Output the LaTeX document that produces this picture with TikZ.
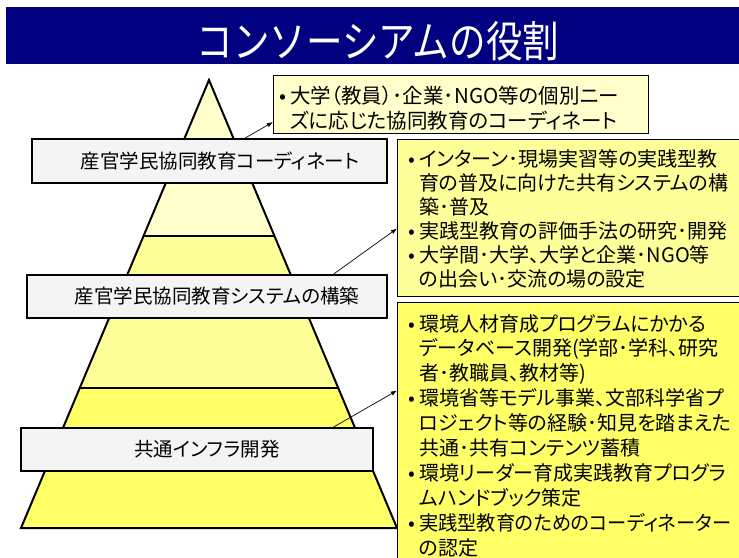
\documentclass[tikz,border=0pt]{standalone}
\usepackage{fontspec}
\usepackage{graphicx}
\setmainfont[RawFeature=+palt]{Noto Sans CJK JP}
\newfontfamily\titlefont[FakeStretch=0.85]{Noto Sans CJK JP}
\usetikzlibrary{calc,arrows.meta}
\definecolor{navybar}{HTML}{000080}
\definecolor{ylight}{HTML}{FFFFCC}
\definecolor{ymid}{HTML}{FFFF99}
\definecolor{ydark}{HTML}{FFFF66}
\definecolor{labgray}{HTML}{F4F4F4}
\newcommand\bul{\makebox[14pt][c]{•}}
\newcommand\ind{\hspace*{14pt}}
\tikzset{
  labelbox/.style={draw=black, line width=2pt, fill=labgray, inner sep=0, minimum height=43pt},
  labeltext/.style={font=\fontsize{19.5}{23}\selectfont, inner sep=0},
  notebox/.style={draw=black, line width=0.9pt, inner sep=0, anchor=north west},
  notetext/.style={align=left, inner sep=0, anchor=north west},
  conn/.style={-{Latex[length=6pt,width=4.5pt]}, line width=0.7pt},
  pyrline/.style={line width=2pt, line join=miter},
}
\begin{document}
\begin{tikzpicture}[x=1pt,y=-1pt]
\useasboundingbox (0,0) rectangle (739,557);
% title bar
\node[fill=navybar, inner sep=0, minimum width=740pt, minimum height=57pt, anchor=north west] (bar) at (6,7) {};
\node[inner sep=0, text=white, font=\titlefont\fontsize{43}{46}\selectfont] (title) at (378,41) {コンソーシアムの役割};
% pyramid
\coordinate (apex) at (209,80);
\coordinate (bl) at (21,528);
\coordinate (br) at (397,528);
\coordinate (l1) at ($(apex)!0.34821!(bl)$);
\coordinate (r1) at ($(apex)!0.34821!(br)$);
\coordinate (l2) at ($(apex)!0.6875!(bl)$);
\coordinate (r2) at ($(apex)!0.6875!(br)$);
\fill[ylight] (apex) -- (l1) -- (r1) -- cycle;
\fill[ymid] (l1) -- (r1) -- (r2) -- (l2) -- cycle;
\fill[ydark] (l2) -- (r2) -- (br) -- (bl) -- cycle;
\draw[pyrline] (apex) -- (bl) -- (br) -- cycle;
\draw[pyrline] (l1) -- (r1);
\draw[pyrline] (l2) -- (r2);
% label boxes
\node[labelbox, minimum width=355pt, minimum height=44pt] (lab1) at (209.5,161) {};
\node[labeltext] (lab1t) at (220,161) {産官学民協同教育コーディネート};
\node[labelbox, minimum width=360pt] (lab2) at (207,296.5) {};
\node[labeltext] (lab2t) at (217,296.5) {産官学民協同教育システムの構築};
\node[labelbox, minimum width=352pt] (lab3) at (197,449.5) {};
\node[labeltext] (lab3t) at (207,449.5) {共通インフラ開発};
% note boxes
\node[notebox, fill=ylight, minimum width=375pt, minimum height=58pt] (boxA) at (273,75) {};
\node[notebox, fill=ymid, minimum width=350pt, minimum height=157pt] (boxB) at (397,139) {};
\node[notebox, fill=ydark, minimum width=350pt, minimum height=265pt] (boxC) at (397,302) {};
\node[notetext, font=\fontsize{20.5}{25}\selectfont] (textA) at (276,86) {\bul 大学（教員）･企業･NGO等の個別ニー\\\ind ズに応じた協同教育のコーディネート};
\node[notetext, font=\fontsize{20}{24}\selectfont] (textB) at (405,149) {\bul インターン･現場実習等の実践型教\\
\ind 育の普及に向けた共有システムの構\\
\ind 築･普及\\
\bul 実践型教育の評価手法の研究･開発\\
\bul 大学間･大学、大学と企業･NGO等\\
\ind の出会い･交流の場の設定};
\node[notetext, font=\fontsize{20}{24.9}\selectfont] (textC) at (405,314) {\bul 環境人材育成プログラムにかかる\\
\ind データベース開発(学部･学科、研究\\
\ind 者･教職員、教材等)\\
\bul 環境省等モデル事業、文部科学省プ\\
\ind ロジェクト等の経験･知見を踏まえた\\
\ind 共通･共有コンテンツ蓄積\\
\bul 環境リーダー育成実践教育プログラ\\
\ind ムハンドブック策定\\
\bul \scalebox{0.96}[1]{実践型教育のためのコーディネーター}\\
\ind の認定};
% connectors
\draw[conn] ($(lab1.north west)!0.6!(lab1.north east)$) -- ($(boxA.south west)!0.2!(boxA.north west)$);
\draw[conn] ($(lab2.north west)!0.85!(lab2.north east)$) -- ($(boxB.south west)!0.433!(boxB.north west)$);
\draw[conn] ($(lab3.north west)!0.886!(lab3.north east)$) -- ($(boxC.south west)!0.667!(boxC.north west)$);
\end{tikzpicture}
\end{document}
